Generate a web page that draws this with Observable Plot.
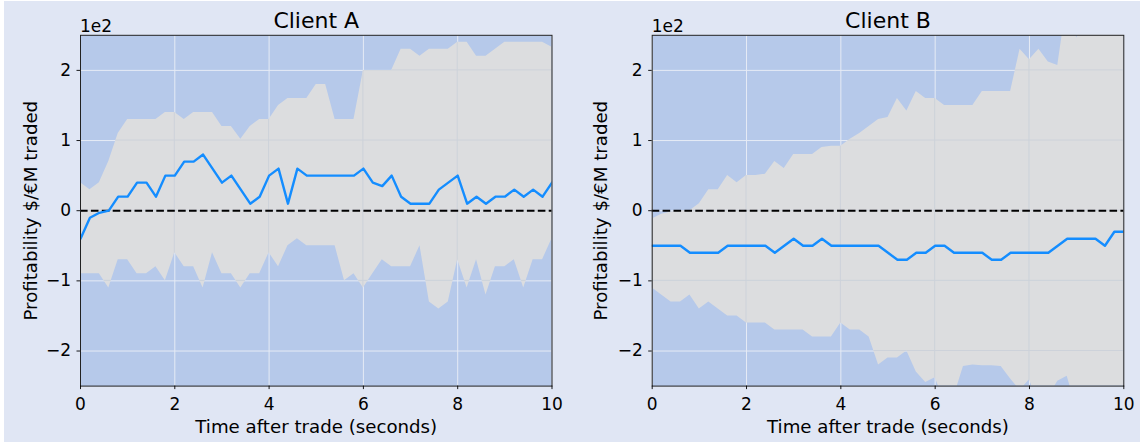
<!DOCTYPE html>
<html>
<head>
<meta charset="utf-8">
<script src="https://cdn.jsdelivr.net/npm/d3@7"></script>
<script src="https://cdn.jsdelivr.net/npm/@observablehq/plot@0.6"></script>
<style>
  html, body { margin: 0; padding: 0; background: #ffffff; }
  #wrap { position: relative; width: 1140px; height: 446px; overflow: hidden; }
  #bg { position: absolute; left: 4px; top: 1px; width: 1136px; height: 441px; background: #e0e6f4; }
  .panel { position: absolute; top: 0; }
  .panel svg { overflow: visible; }
</style>
</head>
<body>
<div id="wrap"><div id="bg"></div><div id="pA" class="panel" style="left:0px"></div><div id="pB" class="panel" style="left:570px"></div></div>
<script>
// ---- data ----
const times = [0,0.2,0.4,0.6,0.8,1,1.2,1.4,1.6,1.8,2,2.2,2.4,2.6,2.8,3,3.2,3.4,3.6,3.8,4,4.2,4.4,4.6,4.8,5,5.2,5.4,5.6,5.8,6,6.2,6.4,6.6,6.8,7,7.2,7.4,7.6,7.8,8,8.2,8.4,8.6,8.8,9,9.2,9.4,9.6,9.8,10];

const clientAMean = [-40,-10,-3,0,20,20,40,40,20,50, 50,70,70,80,60,40,50,30,10,20, 50,60,10,60,50,50,50,50,50,50, 60,40,35,50,20,10,10,10,30,40, 50,10,20,10,20,20,30,20,30,20, 40];
const clientAUpper = [40,30,40,70,110,130,130,130,130,140, 140,130,140,140,140,120,120,102,120,130, 130,150,160,160,160,180,180,130,130,130, 200,200,200,200,230,230,220,230,230,230, 240,240,220,220,230,240,240,240,240,240, 233];
const clientALower = [-90,-90,-90,-110,-70,-70,-90,-90,-80,-100, -60,-80,-80,-110,-60,-90,-90,-110,-90,-90, -60,-80,-50,-40,-50,-50,-50,-50,-100,-90, -110,-90,-70,-80,-80,-80,-50,-130,-140,-130, -70,-110,-70,-120,-80,-80,-70,-110,-70,-70, -40];

const clientBMean = [-50,-50,-50,-50,-60,-60,-60,-60,-50,-50, -50,-50,-50,-60,-50,-40,-50,-50,-40,-50, -50,-50,-50,-50,-50,-60,-70,-70,-60,-60, -50,-50,-60,-60,-60,-60,-70,-70,-60,-60, -60,-60,-60,-50,-40,-40,-40,-40,-50,-30, -30];
const clientBUpper = [-12,-5,-2,0,0,10,30,30,50,40, 50,50,52,70,60,80,80,80,90,92, 92,102,110,120,130,133,160,142,170,160, 160,150,150,150,150,170,170,170,170,230, 215,230,212,207,300,246,270,280,280,280, 280];
const clientBLower = [-110,-120,-130,-130,-120,-140,-130,-140,-150,-150, -160,-160,-160,-170,-170,-170,-170,-180,-180,-180, -160,-170,-170,-180,-220,-210,-210,-200,-230,-245, -238,-272,-265,-222,-220,-221,-221,-222,-240,-256, -241,-277,-266,-243,-236,-283,-290,-290,-290,-290, -290];

const panelTitles = ["Client A", "Client B"];
const xTicks = [0, 2, 4, 6, 8, 10];
const yTicks = [-200, -100, 0, 100, 200];
const yDomain = [-250, 250];
const xDomain = [0, 10];
const offsetLabel = "1e2";
const xLabel = "Time after trade (seconds)";
const yLabel = "Profitability $/€M traded";

// ---- styles ----
const FONT = "DejaVu Sans";
const C_BLUE = "#b6c9ea";
const C_GREY = "#dcdddf";
const C_GRID_W = "#e6ebf5";
const C_GRID_G = "#cdd2da";
const C_LINE = "#148dff";

function rows(mean, lo, hi) {
  return times.map((t, i) => ({t, v: mean[i], lo: lo[i], hi: hi[i]}));
}

const fmtY = d => { const v = d / 100; return (v < 0 ? "\u2212" : "") + Math.abs(v); };

// custom mark: grid lines drawn only inside the band, clipped by the band shape
function bandGrid(data, id) {
  return (index, scales, values, dimensions) => {
    const {x, y} = scales;
    const ns = "http://www.w3.org/2000/svg";
    const g = document.createElementNS(ns, "g");
    const defs = document.createElementNS(ns, "defs");
    const cp = document.createElementNS(ns, "clipPath");
    cp.setAttribute("id", id);
    const p = document.createElementNS(ns, "path");
    p.setAttribute("d", d3.area().x(d => x(d.t)).y0(d => y(d.lo)).y1(d => y(d.hi))(data));
    cp.appendChild(p);
    defs.appendChild(cp);
    g.appendChild(defs);
    const gl = document.createElementNS(ns, "g");
    gl.setAttribute("clip-path", `url(#${id})`);
    gl.setAttribute("stroke", C_GRID_G);
    gl.setAttribute("stroke-width", "1");
    const {marginTop, marginBottom, marginLeft, marginRight, width, height} = dimensions;
    for (const tx of xTicks) {
      const l = document.createElementNS(ns, "line");
      l.setAttribute("x1", x(tx)); l.setAttribute("x2", x(tx));
      l.setAttribute("y1", marginTop); l.setAttribute("y2", height - marginBottom);
      gl.appendChild(l);
    }
    for (const ty of yTicks) {
      const l = document.createElementNS(ns, "line");
      l.setAttribute("y1", y(ty)); l.setAttribute("y2", y(ty));
      l.setAttribute("x1", marginLeft); l.setAttribute("x2", width - marginRight);
      gl.appendChild(l);
    }
    g.appendChild(gl);
    return g;
  };
}

function panel(data, title, ml, mr, ylDx, id) {
  return Plot.plot({
    width: 570,
    height: 446,
    marginLeft: ml,
    marginRight: mr,
    marginTop: 34.8,
    marginBottom: 60.4,
    style: {fontFamily: FONT, fontSize: "17px", background: "transparent", color: "black", overflow: "visible"},
    x: {domain: xDomain},
    y: {domain: yDomain},
    marks: [
      Plot.frame({fill: C_BLUE}),
      Plot.ruleX(xTicks, {stroke: C_GRID_W, strokeWidth: 1}),
      Plot.ruleY(yTicks, {stroke: C_GRID_W, strokeWidth: 1}),
      Plot.areaY(data, {x: "t", y1: "lo", y2: "hi", fill: C_GREY, clip: true}),
      bandGrid(data, id),
      Plot.ruleY([0], {stroke: "black", strokeWidth: 2.1, strokeDasharray: "7.6,3.3"}),
      Plot.lineY(data, {x: "t", y: "v", stroke: C_LINE, strokeWidth: 2.4, clip: true}),
      Plot.frame({stroke: "#222", strokeWidth: 1}),
      Plot.axisX({ticks: xTicks, tickSize: 3.5, tickPadding: 8, tickFormat: d => String(d), label: null, fontSize: 17, strokeWidth: 0.9}),
      Plot.axisY({ticks: yTicks, tickSize: 3.5, tickPadding: 6, tickFormat: fmtY, label: null, fontSize: 17, strokeWidth: 0.9}),
      Plot.text([title], {frameAnchor: "top", lineAnchor: "bottom", dy: -7.4, fontSize: 22, fill: "black"}),
      Plot.text([offsetLabel], {frameAnchor: "top-left", textAnchor: "start", lineAnchor: "bottom", dy: -3.2, dx: -0.5, fontSize: 17, fill: "black"}),
      Plot.text([xLabel], {frameAnchor: "bottom", lineAnchor: "bottom", dy: 46.5, fontSize: 18.2, fill: "black"}),
      Plot.text([yLabel], {frameAnchor: "left", rotate: -90, textAnchor: "middle", lineAnchor: "bottom", dx: ylDx, fontSize: 18.2, fill: "black"})
    ]
  });
}

document.getElementById("pA").appendChild(panel(rows(clientAMean, clientALower, clientAUpper), panelTitles[0], 80, 18.5, -44, "clipA"));
document.getElementById("pB").appendChild(panel(rows(clientBMean, clientBLower, clientBUpper), panelTitles[1], 81.7, 16.7, -45.3, "clipB"));
</script>
</body>
</html>
